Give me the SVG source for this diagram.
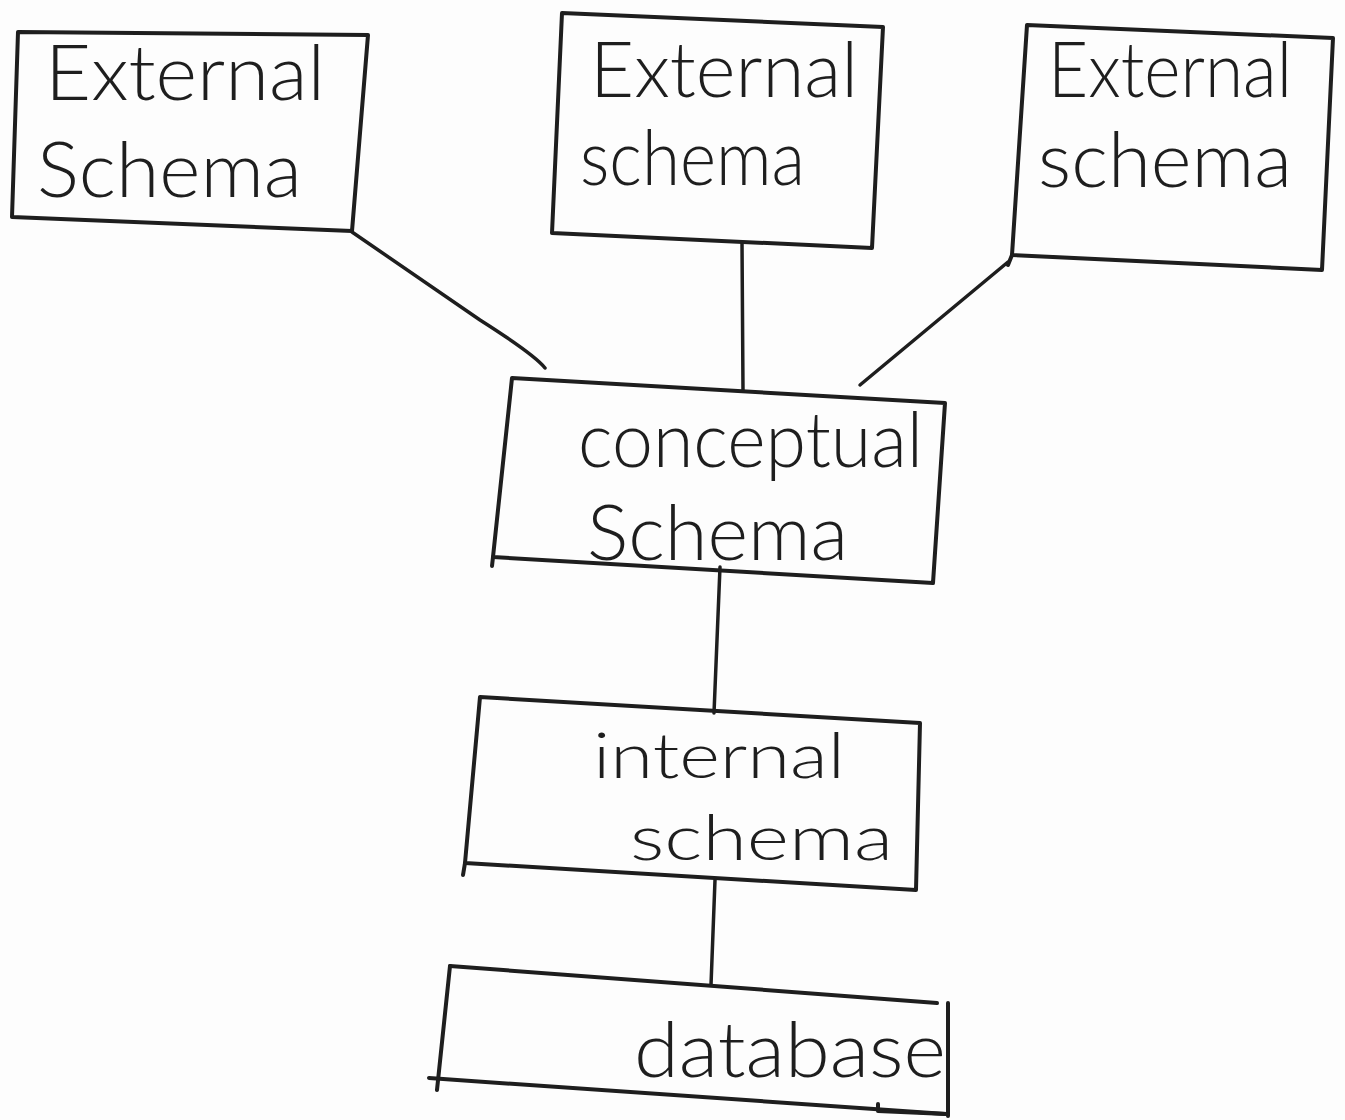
<svg xmlns="http://www.w3.org/2000/svg" width="1345" height="1120" viewBox="0 0 1345 1120">
  <style>
    .box { fill: none; stroke: #1e1e1e; stroke-width: 4; stroke-linejoin: round; stroke-linecap: round; }
    .link { fill: none; stroke: #1e1e1e; stroke-width: 3.5; stroke-linecap: round; }
    .label { font-family: Lato, "Open Sans", "Liberation Sans", sans-serif; font-weight: 300; font-size: 76px; fill: #1e1e1e; }
    .tight { font-size: 64px; }
  </style>
  <rect width="1345" height="1120" fill="#fdfdfd"/>

  <!-- level links -->
  <g id="connectors">
    <path class="link" d="M352 232 L480 320 Q535 355 545 368"/>
    <path class="link" d="M742 242 L743 390"/>
    <path class="link" d="M1008 262 L860 385"/>
    <path class="link" d="M720 567 L714 713"/>
    <path class="link" d="M715 880 L711 985"/>
  </g>

  <g id="external-1">
    <path class="box" d="M18 32 L368 35 L352 231 L12 217 Z"/>
    <text class="label" x="45" y="100" textLength="280" lengthAdjust="spacingAndGlyphs">External</text>
    <text class="label" x="37" y="197" textLength="265" lengthAdjust="spacingAndGlyphs">Schema</text>
  </g>

  <g id="external-2">
    <path class="box" d="M562 13 L883 27 L872 248 L552 233 Z"/>
    <text class="label" x="590" y="97" textLength="268" lengthAdjust="spacingAndGlyphs">External</text>
    <text class="label" x="580" y="185" textLength="225" lengthAdjust="spacingAndGlyphs">schema</text>
  </g>

  <g id="external-3">
    <path class="box" d="M1027 25 L1333 38 L1322 270 L1012 255 Z"/>
    <path class="box" d="M1012 255 L1008 265"/>
    <text class="label" x="1048" y="97" textLength="244" lengthAdjust="spacingAndGlyphs">External</text>
    <text class="label" x="1038" y="187" textLength="254" lengthAdjust="spacingAndGlyphs">schema</text>
  </g>

  <g id="conceptual">
    <path class="box" d="M512 378 L945 403 L933 583 L493 557 Z"/>
    <path class="box" d="M493 557 L492 566"/>
    <text class="label" x="578" y="467" textLength="345" lengthAdjust="spacingAndGlyphs">conceptual</text>
    <text class="label" x="587" y="560" textLength="261" lengthAdjust="spacingAndGlyphs">Schema</text>
  </g>

  <g id="internal">
    <path class="box" d="M480 697 L920 723 L916 890 L465 863 Z"/>
    <path class="box" d="M465 863 L463 875"/>
    <text class="label tight" x="593" y="778" textLength="252" lengthAdjust="spacingAndGlyphs">internal</text>
    <text class="label tight" x="630" y="860" textLength="263" lengthAdjust="spacingAndGlyphs">schema</text>
  </g>

  <g id="database">
    <path class="box" d="M450 966 L937 1003"/>
    <path class="box" d="M948 1003 L948 1116"/>
    <path class="box" d="M450 966 L437 1090"/>
    <path class="box" d="M429 1078 L946 1114"/>
    <path class="box" d="M878 1104 L878 1111 L946 1114"/>
    <text class="label" x="634" y="1077" textLength="312" lengthAdjust="spacingAndGlyphs">database</text>
  </g>
</svg>
